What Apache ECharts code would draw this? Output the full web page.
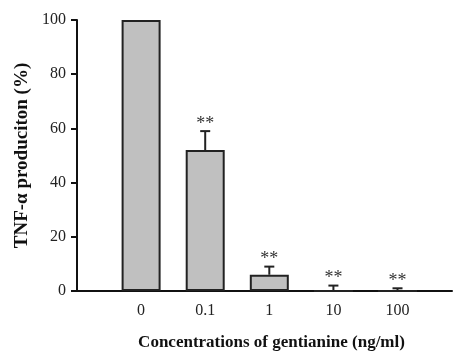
<!DOCTYPE html>
<html><head><meta charset="utf-8">
<script src="https://cdn.jsdelivr.net/npm/echarts@6/dist/echarts.min.js"></script>
<style>html,body{margin:0;padding:0;background:#fff}#c{width:455px;height:356px}</style>
</head><body><div id="c"></div>
<script>
const categories = ['0', '0.1', '1', '10', '100'];
const values = [100, 52, 6, 0, 0];
const errors = [0, 7, 3, 2, 1];
const marks = ['', '**', '**', '**', '**'];
const yTicks = [0, 20, 40, 60, 80, 100];

const FONT = "'Liberation Serif', 'DejaVu Serif', serif";
const pos = categories.map((c, i) => i + 1);
const chart = echarts.init(document.getElementById('c'));
chart.setOption({
  animation: false,
  grid: { left: 77, right: 0, top: 20, bottom: 58 },
  xAxis: {
    type: 'value', min: 0, max: 5.85, interval: 1,
    name: 'Concentrations of gentianine (ng/ml)', nameLocation: 'middle', nameGap: 43,
    nameTextStyle: { fontFamily: FONT, fontWeight: 'bold', fontSize: 17, color: '#111', padding: [0, 0, 0, 14] },
    axisLine: { show: true, lineStyle: { color: '#111', width: 2 } },
    axisTick: { show: false }, splitLine: { show: false },
    axisLabel: { fontFamily: FONT, fontSize: 16, color: '#222', margin: 12,
      formatter: v => (v >= 1 && v <= categories.length && Number.isInteger(v)) ? categories[v - 1] : '' }
  },
  yAxis: {
    type: 'value', min: yTicks[0], max: yTicks[yTicks.length - 1], interval: 20,
    name: 'TNF-α produciton (%)', nameLocation: 'middle', nameGap: 44,
    nameTextStyle: { fontFamily: FONT, fontWeight: 'bold', fontSize: 19, color: '#111' },
    axisLine: { show: true, lineStyle: { color: '#111', width: 2 } },
    axisTick: { show: true, length: 6, lineStyle: { color: '#111', width: 2 } },
    splitLine: { show: false },
    axisLabel: { fontFamily: FONT, fontSize: 16, color: '#222', margin: 11 }
  },
  series: [
    {
      type: 'bar', barWidth: 39,
      data: values.map((v, i) => [pos[i], v]),
      itemStyle: { color: '#c0c0c0', borderColor: '#222', borderWidth: 2 },
      z: 2
    },
    {
      type: 'custom', z: 3,
      data: values.map((v, i) => [pos[i], v, errors[i], i]),
      renderItem: (params, api) => {
        const x = api.value(0), v = api.value(1), e = api.value(2), i = api.value(3);
        const base = api.coord([x, v]);
        const top = api.coord([x, v + e]);
        const children = [];
        if (e > 0) {
          children.push({ type: 'line', shape: { x1: base[0], y1: base[1], x2: top[0], y2: top[1] },
            style: { stroke: '#222', lineWidth: 2 } });
          children.push({ type: 'line', shape: { x1: top[0] - 5, y1: top[1], x2: top[0] + 5, y2: top[1] },
            style: { stroke: '#222', lineWidth: 2 } });
        }
        if (marks[i]) {
          children.push({ type: 'text', x: top[0], y: top[1] + 2,
            style: { text: marks[i], font: "18px " + FONT, fill: '#333', align: 'center', verticalAlign: 'bottom' } });
        }
        return { type: 'group', children };
      }
    }
  ]
});
</script></body></html>
